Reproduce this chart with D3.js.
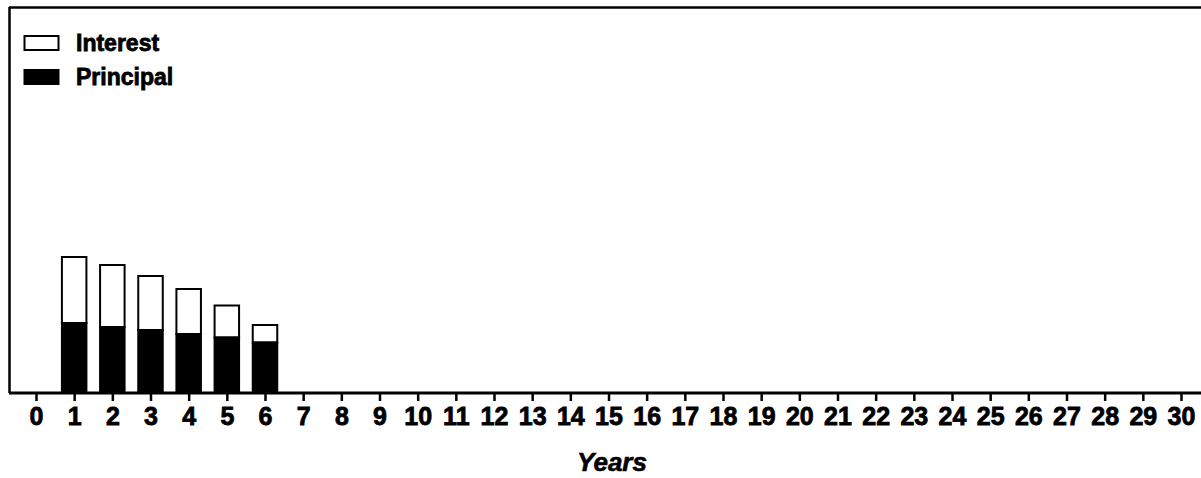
<!DOCTYPE html>
<html>
<head>
<meta charset="utf-8">
<script src="https://cdn.jsdelivr.net/npm/d3@7"></script>
<style>
  body { margin: 0; background: #fff; }
  svg { display: block; font-family: "Liberation Sans", Arial, sans-serif; }
</style>
</head>
<body>
<svg id="chart" width="1201" height="478"></svg>
<script>
// data (arbitrary units)
var years = [1, 2, 3, 4, 5, 6];
var principal = [70, 66, 63, 59, 55.5, 50.5];
var interest = [66, 62, 54, 45, 32, 17.5];
var tickYears = d3.range(0, 31);
var seriesNames = ["Interest", "Principal"];

var width = 1201, height = 478;
var base = 393;

var svg = d3.select("#chart");

var x = d3.scaleLinear().domain([0, 30]).range([36, 1181]);
var y = d3.scaleLinear().domain([0, 384]).range([base, 9]);
var barW = 24.5;

// frame: top and left edges
svg.append("line")
    .attr("x1", 9).attr("x2", width).attr("y1", 7.5).attr("y2", 7.5)
    .attr("stroke", "#000").attr("stroke-width", 2.5);
svg.append("line")
    .attr("x1", 9.5).attr("x2", 9.5).attr("y1", 7).attr("y2", base)
    .attr("stroke", "#000").attr("stroke-width", 2.5);

// stacked bars
var rows = years.map(function (yr, i) {
    return { year: yr, p: principal[i], it: interest[i] };
});

var bars = svg.append("g");
bars.selectAll("rect.interest")
    .data(rows)
    .enter()
    .append("rect")
    .attr("class", "interest")
    .attr("x", function (d) { return x(d.year) - barW / 2; })
    .attr("y", function (d) { return y(d.p + d.it); })
    .attr("width", barW)
    .attr("height", function (d) { return y(d.p) - y(d.p + d.it); })
    .attr("fill", "#fff")
    .attr("stroke", "#000")
    .attr("stroke-width", 2);

bars.selectAll("rect.principal")
    .data(rows)
    .enter()
    .append("rect")
    .attr("class", "principal")
    .attr("x", function (d) { return x(d.year) - barW / 2; })
    .attr("y", function (d) { return y(d.p); })
    .attr("width", barW)
    .attr("height", function (d) { return base - y(d.p); })
    .attr("fill", "#000")
    .attr("stroke", "#000")
    .attr("stroke-width", 2);

// x axis
var axis = d3.axisBottom(x)
    .tickValues(tickYears)
    .tickFormat(d3.format("d"))
    .tickSize(8)
    .tickPadding(6);

var gx = svg.append("g")
    .attr("transform", "translate(0," + base + ")")
    .call(axis);
gx.select(".domain").remove();
gx.selectAll(".tick line").attr("stroke-width", 2.5);
gx.selectAll(".tick text")
    .attr("font-size", 25)
    .attr("font-weight", "bold")
    .attr("fill", "#000")
    .attr("stroke", "#000")
    .attr("stroke-width", 0.8)
    .attr("font-family", "Liberation Sans, Arial, sans-serif");

svg.append("line")
    .attr("x1", 9).attr("x2", width).attr("y1", base).attr("y2", base)
    .attr("stroke", "#000").attr("stroke-width", 3);

svg.append("text")
    .attr("x", 612).attr("y", 471)
    .attr("text-anchor", "middle")
    .attr("font-size", 26)
    .attr("font-weight", "bold")
    .attr("font-style", "italic")
    .attr("stroke", "#000")
    .attr("stroke-width", 0.6)
    .text("Years");

// legend
var legend = svg.append("g");
var legendY = [36, 70];
seriesNames.forEach(function (name, i) {
    legend.append("rect")
        .attr("x", 24.5).attr("y", legendY[i])
        .attr("width", 34).attr("height", 14)
        .attr("fill", i === 0 ? "#fff" : "#000")
        .attr("stroke", "#000").attr("stroke-width", 2);
    legend.append("text")
        .attr("x", 76).attr("y", legendY[i] + 15)
        .attr("font-size", 23)
        .attr("font-weight", "bold")
        .attr("stroke", "#000")
        .attr("stroke-width", 0.8)
        .text(name);
});
</script>
</body>
</html>
